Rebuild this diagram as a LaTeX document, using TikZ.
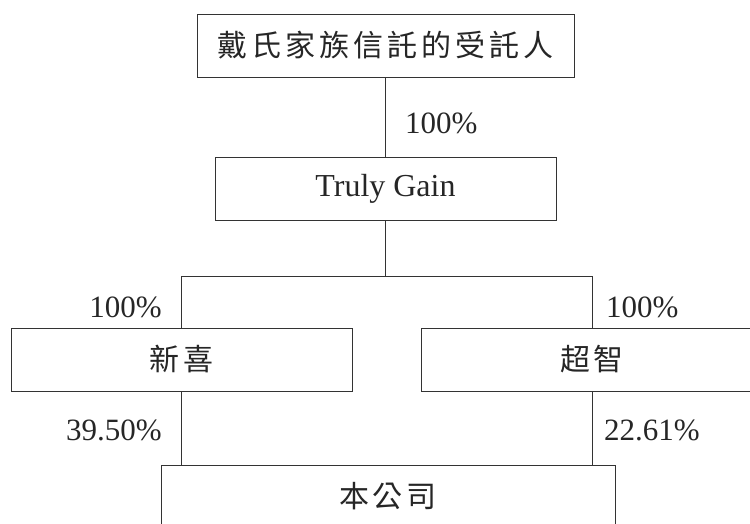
\documentclass[tikz,border=0pt]{standalone}
\usepackage{fontspec}
\setmainfont{Liberation Serif}
\newfontfamily\cjkfont[LetterSpace=13]{Noto Sans CJK TC}
\usepackage{tikz}

\tikzset{
    entity/.style={draw=black!80, line width=0.9pt, minimum width=341pt, minimum height=63pt,
        text=black!85, font=\fontsize{32}{32}\selectfont},
    cjk/.style={font=\fontsize{30}{30}\selectfont\cjkfont},
    pct/.style={inner sep=0pt, text=black!85, font=\fontsize{31}{31}\selectfont},
    link/.style={draw=black!80, line width=0.9pt}
}

\begin{document}
\begin{tikzpicture}[x=1pt, y=-1pt]
    \useasboundingbox (0,0) rectangle (750,523);

    % Ownership chain
    \node[entity, cjk, minimum width=377pt] (trustee) at (385.5,45.5) {戴氏家族信託的受託人};
    \node[entity] (truly) at (385.5,189) {Truly Gain};
    \node[entity, cjk] (xinxi) at (181.5,359.5) {新喜};
    \node[entity, cjk] (chaozhi) at (592,359.5) {超智};
    \node[entity, cjk, minimum width=454pt] (company) at (388,496.5) {本公司};

    % Connectors
    \path (truly.south) ++(0,55) coordinate (split);
    \draw[link] (trustee.south) -- (truly.north);
    \draw[link] (truly.south) -- (split);
    \draw[link] (xinxi.north) |- (split) -| (chaozhi.north);
    \draw[link] (xinxi.south) -- (xinxi.south |- company.north);
    \draw[link] (chaozhi.south) -- (chaozhi.south |- company.north);

    % Percentages
    \node[pct, anchor=west] (pcttruly) at (405,123) {100\%};
    \node[pct, anchor=east] (pctxinxi) at (162,307) {100\%};
    \node[pct, anchor=west] (pctchaozhi) at (606,307) {100\%};
    \node[pct, anchor=east] (pctleft) at (162,430) {39.50\%};
    \node[pct, anchor=west] (pctright) at (604,430) {22.61\%};
\end{tikzpicture}
\end{document}
